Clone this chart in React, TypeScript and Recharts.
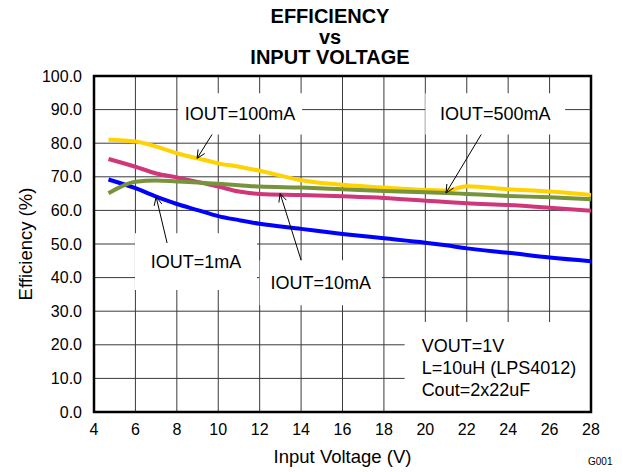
import React from 'react';
import { LineChart, Line, XAxis, YAxis, CartesianGrid, ReferenceArea, ReferenceLine } from 'recharts';

// input voltage samples (V)
const vin = [4.7, 6, 7, 8, 9, 10, 11, 12, 14, 16, 18, 20, 21, 22, 24, 26, 28];
// efficiency (%) per load current
const eff1mA = [69.2, 66.6, 64.1, 61.9, 60.1, 58.3, 57.1, 56, 54.5, 53, 51.7, 50.4, 49.6, 48.7, 47.4, 46, 44.9];
const eff10mA = [75.3, 73, 71, 69.8, 68.5, 67.1, 65.6, 64.9, 64.6, 64.2, 63.7, 62.9, 62.5, 62.1, 61.6, 60.8, 59.9];
const eff100mA = [81, 80.5, 79, 77, 75.5, 74, 73, 71.8, 69, 67.6, 66.8, 66.1, 65.9, 67.2, 66.3, 65.6, 64.6];
const eff500mA = [65.1, 68.5, 68.9, 68.6, 68.3, 67.9, 67.5, 67.1, 66.8, 66.3, 65.8, 65.4, 65.2, 64.9, 64.3, 63.9, 63.3];

const xTicks = [4, 6, 8, 10, 12, 14, 16, 18, 20, 22, 24, 26, 28];
const yTicks = [0, 10, 20, 30, 40, 50, 60, 70, 80, 90, 100];
const titleLines = ['EFFICIENCY', 'vs', 'INPUT VOLTAGE'];
const conditions = ['VOUT=1V', 'L=10uH (LPS4012)', 'Cout=2x22uF'];

const data = vin.map((v, i) => ({
  vin: v,
  i1: eff1mA[i],
  i10: eff10mA[i],
  i100: eff100mA[i],
  i500: eff500mA[i],
}));

const FONT = '"Liberation Sans", Arial, sans-serif';

// line with an open arrow head at (x2, y2)
const Arrow = (p: any) => {
  const { x1, y1, x2, y2 } = p;
  const a = Math.atan2(y1 - y2, x1 - x2);
  const len = 9;
  const s = 0.45;
  return (
    <g stroke="#000" strokeWidth={1} fill="none">
      <line x1={x1} y1={y1} x2={x2} y2={y2} />
      <line x1={x2} y1={y2} x2={x2 + len * Math.cos(a + s)} y2={y2 + len * Math.sin(a + s)} />
      <line x1={x2} y1={y2} x2={x2 + len * Math.cos(a - s)} y2={y2 + len * Math.sin(a - s)} />
    </g>
  );
};

const YTitle = (props: any) => {
  const vb = props.viewBox;
  const cx = 25;
  const cy = vb.y + vb.height / 2;
  return (
    <text x={cx} y={cy} transform={`rotate(-90 ${cx} ${cy})`} textAnchor="middle" dominantBaseline="central" fontSize={18.5} fill="#000">
      Efficiency (%)
    </text>
  );
};

const XTitle = (props: any) => {
  const vb = props.viewBox;
  return (
    <text x={vb.x + vb.width / 2} y={vb.y + 51} textAnchor="middle" fontSize={18.5} fill="#000">
      Input Voltage (V)
    </text>
  );
};

const CondText = (props: any) => {
  const vb = props.viewBox;
  return (
    <text fontSize={18} fill="#000">
      {conditions.map((t, i) => (
        <tspan key={t} x={vb.x + 17} y={vb.y + 30 + i * 22}>{t}</tspan>
      ))}
    </text>
  );
};

const boxLabel = (value: string) => ({ value, position: 'center' as const, fontSize: 18, fill: '#000' });

export default function App() {
  return (
    <div style={{ position: 'absolute', left: 0, top: 0, width: 623, height: 472, background: '#fff', fontFamily: FONT }}>
      <svg width={623} height={80} style={{ position: 'absolute', left: 0, top: 0 }}>
        <text fontFamily={FONT} fontWeight="bold" fontSize={20} textAnchor="middle" fill="#000">
          {titleLines.map((t, i) => (
            <tspan key={t} x={330} y={23 + i * 20.5}>{t}</tspan>
          ))}
        </text>
      </svg>
      <div style={{ position: 'absolute', left: 0, top: 0 }}>
        <LineChart width={623} height={472} data={data} margin={{ top: 76, right: 32, bottom: 0, left: 0 }}>
          <CartesianGrid stroke="#3a3a3a" strokeWidth={1} />
          <XAxis
            dataKey="vin"
            type="number"
            domain={[4, 28]}
            ticks={xTicks}
            height={60}
            tickLine={false}
            axisLine={false}
            tickSize={0}
            tickMargin={12}
            tick={{ fontSize: 16, fill: '#000' }}
            label={<XTitle />}
          />
          <YAxis
            type="number"
            domain={[0, 100]}
            ticks={yTicks}
            width={94}
            tickLine={false}
            axisLine={false}
            tickSize={0}
            tickMargin={12}
            tick={{ fontSize: 16, fill: '#000' }}
            tickFormatter={(v: number) => v.toFixed(1)}
            label={<YTitle />}
          />
          <ReferenceArea x1={8.06} x2={14.05} y1={82.6} y2={94.9} fill="#fff" fillOpacity={1} stroke="none" label={boxLabel('IOUT=100mA')} />
          <ReferenceArea x1={20.0} x2={26.75} y1={82.6} y2={94.9} fill="#fff" fillOpacity={1} stroke="none" label={boxLabel('IOUT=500mA')} />
          <ReferenceArea x1={5.98} x2={11.87} y1={36.3} y2={53.2} fill="#fff" fillOpacity={1} stroke="none" label={boxLabel('IOUT=1mA')} />
          <ReferenceArea x1={12.0} x2={17.9} y1={31.8} y2={45.2} fill="#fff" fillOpacity={1} stroke="none" label={boxLabel('IOUT=10mA')} />
          <ReferenceArea x1={19.0} x2={28} y1={0} y2={26.8} fill="#fff" fillOpacity={1} stroke="none" label={<CondText />} />
          <Line type="monotone" dataKey="i1" stroke="#0000ff" strokeWidth={4} dot={false} activeDot={false} isAnimationActive={false} />
          <Line type="monotone" dataKey="i10" stroke="#d0367a" strokeWidth={4} dot={false} activeDot={false} isAnimationActive={false} />
          <Line type="monotone" dataKey="i100" stroke="#ffd200" strokeWidth={4} dot={false} activeDot={false} isAnimationActive={false} />
          <Line type="monotone" dataKey="i500" stroke="#77933c" strokeWidth={4} dot={false} activeDot={false} isAnimationActive={false} />
          <ReferenceLine segment={[{ x: 9.7, y: 82.6 }, { x: 8.98, y: 75.5 }]} shape={Arrow} />
          <ReferenceLine segment={[{ x: 22.7, y: 82.6 }, { x: 21.0, y: 65.2 }]} shape={Arrow} />
          <ReferenceLine segment={[{ x: 7.53, y: 50.3 }, { x: 7.0, y: 64.0 }]} shape={Arrow} />
          <ReferenceLine segment={[{ x: 14.0, y: 45.2 }, { x: 12.99, y: 65.0 }]} shape={Arrow} />
          <ReferenceArea x1={4} x2={28} y1={0} y2={100} fill="none" stroke="#000" strokeWidth={2.5} />
        </LineChart>
      </div>
      <div style={{ position: 'absolute', left: 588, top: 456, fontSize: 10, color: '#000' }}>G001</div>
    </div>
  );
}
